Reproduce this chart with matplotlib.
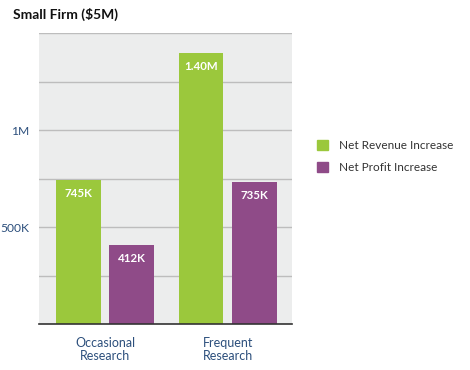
import matplotlib
matplotlib.use("Agg")
import matplotlib.pyplot as plt
from matplotlib.patches import Patch
import numpy as np

# values
categories = ["Occasional\nResearch", "Frequent\nResearch"]
series_names = ["Net Revenue Increase", "Net Profit Increase"]
revenue = [745000, 1400000]
profit = [412000, 735000]
revenue_labels = ["745K", "1.40M"]
profit_labels = ["412K", "735K"]
y_ticks = [0, 250000, 500000, 750000, 1000000, 1250000, 1500000]
y_tick_labels = ["", "", "500K", "", "1M", "", ""]

GREEN = "#9BC83C"
PURPLE = "#8F4B88"
BLUE_TXT = "#2C4F7C"
plt.rcParams["font.family"] = ["Lato", "DejaVu Sans"]

fig = plt.figure(figsize=(4.7, 3.7), dpi=100)
ax = fig.add_axes([0.083, 0.123, 0.5377, 0.7865])
ax.set_facecolor("#ECEDED")

x = np.arange(len(categories))
w = 0.362
off = 0.216
b1 = ax.bar(x - off, revenue, w, color=GREEN, zorder=3)
b2 = ax.bar(x + off, profit, w, color=PURPLE, zorder=3)

for bars, labels in [(b1, revenue_labels), (b2, profit_labels)]:
    for b, lab in zip(bars, labels):
        ax.annotate(lab, (b.get_x() + b.get_width() / 2, b.get_height()),
                    xytext=(0, -6), textcoords="offset points",
                    ha="center", va="top", color="white",
                    fontsize=8.3, fontweight="bold", zorder=4)

ax.set_xlim(-0.537, 1.521)
ax.set_ylim(0, 1500000)
ax.set_yticks(y_ticks)
ax.set_yticklabels(y_tick_labels, color=BLUE_TXT, fontsize=8.7)
ax.set_xticks(x)
ax.set_xticklabels(categories, color=BLUE_TXT, fontsize=9, linespacing=1.1)
ax.tick_params(axis="both", length=0)
ax.tick_params(axis="x", pad=9)
ax.tick_params(axis="y", pad=7)
ax.grid(axis="y", color="#BDBDBD", linewidth=1, zorder=1)
for s in ["top", "right", "left"]:
    ax.spines[s].set_visible(False)
ax.spines["bottom"].set_color("#333333")
ax.spines["bottom"].set_linewidth(1.2)
ax.spines["bottom"].set_zorder(5)

fig.text(13 / 470, 1 - 14 / 370, "Small Firm ($5M)", fontsize=10,
         fontweight="bold", color="#111111", va="center", ha="left")

handles = [Patch(color=GREEN), Patch(color=PURPLE)]
fig.legend(handles, series_names, loc="upper left",
           bbox_to_anchor=(317 / 470, 1 - 140 / 370), frameon=False,
           fontsize=8.5, handlelength=0.95, handleheight=0.95,
           handletextpad=0.95, labelspacing=0.9, borderpad=0,
           borderaxespad=0, labelcolor="#333333")

fig.savefig("out.png", dpi=100)
